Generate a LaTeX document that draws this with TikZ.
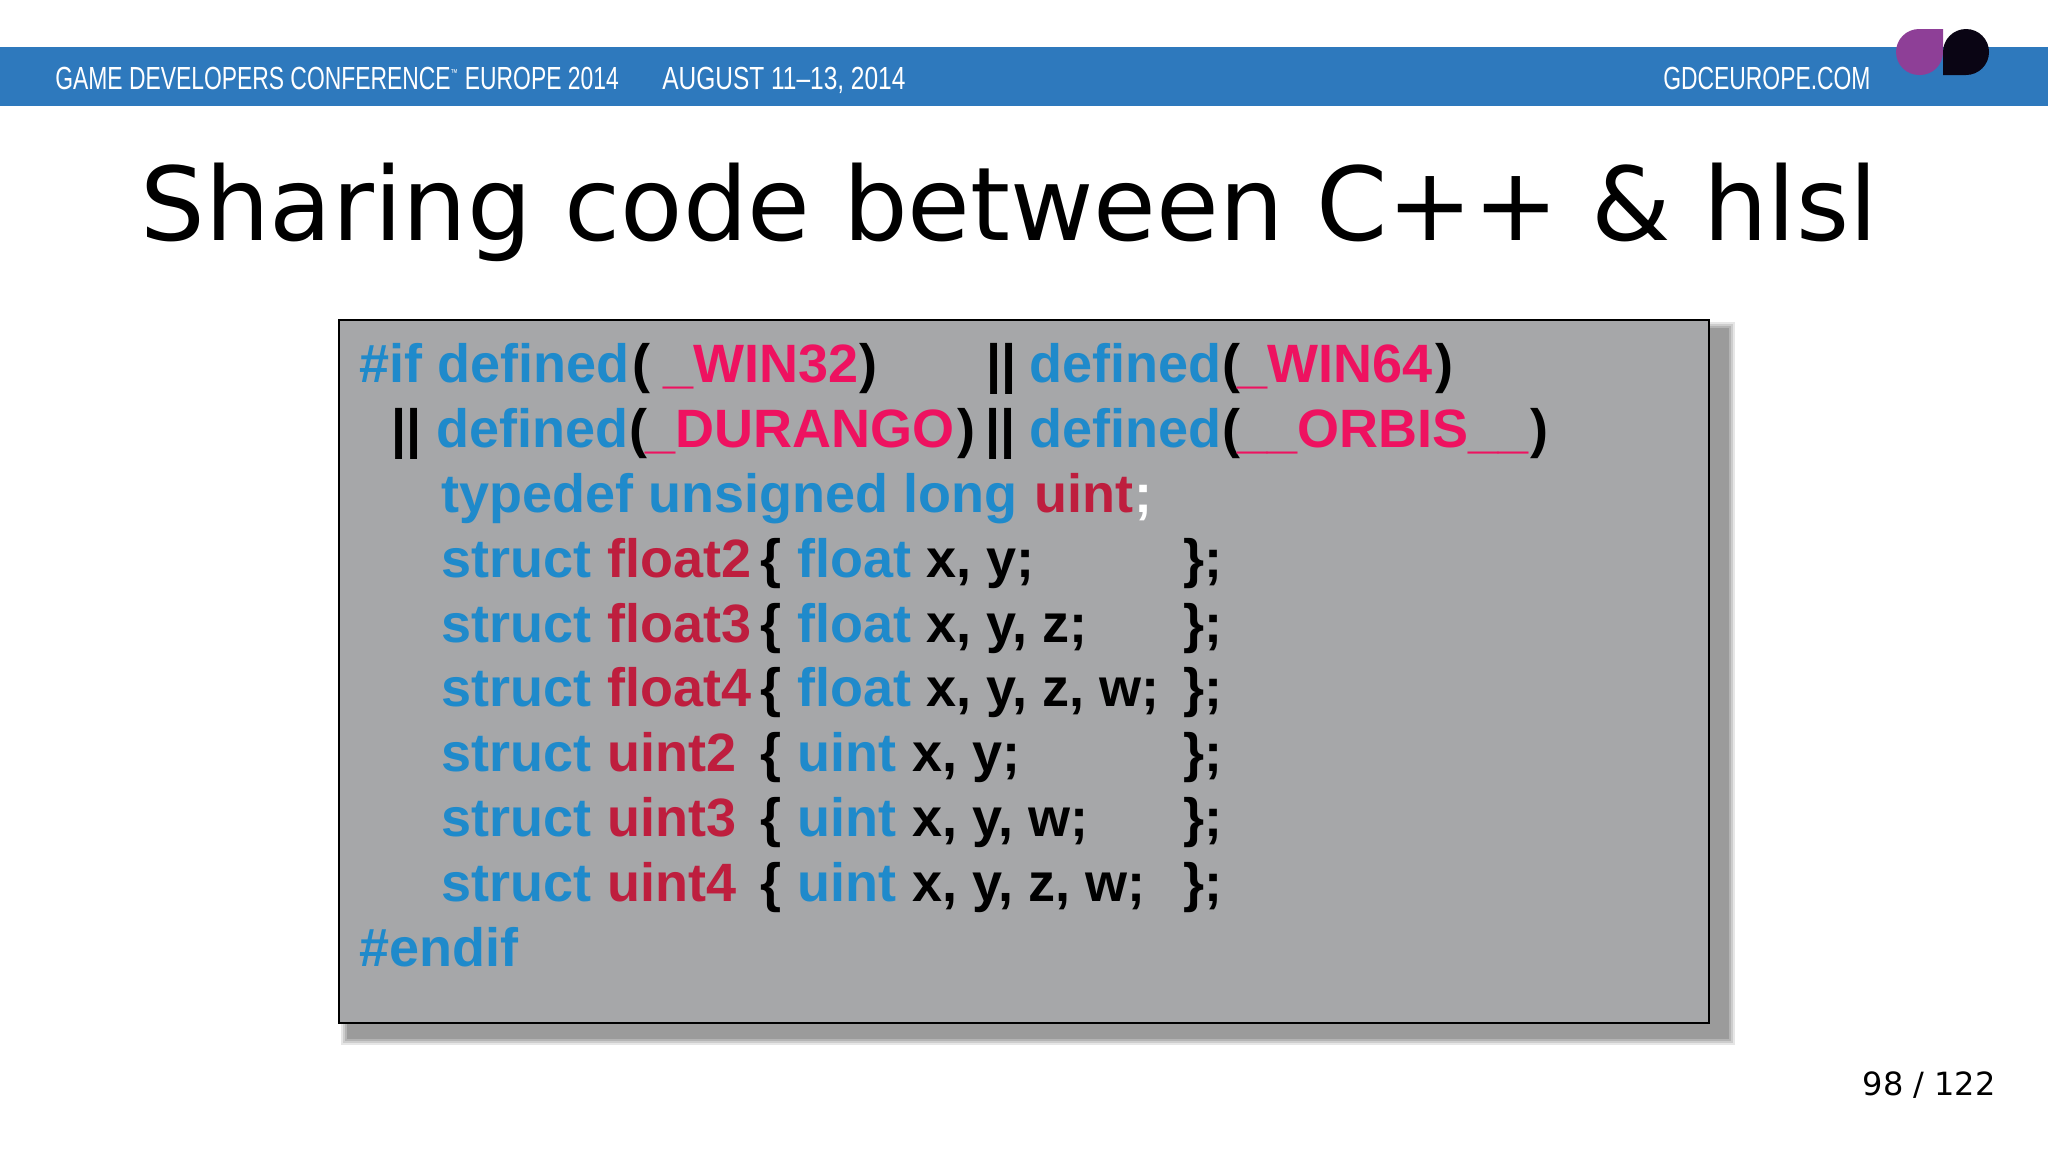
\documentclass[tikz,border=0pt]{standalone}
\usepackage{fontspec}
\setmainfont{Liberation Sans}
\newfontfamily\slidefont{DejaVu Sans}

\definecolor{barblue}{HTML}{2E79BD}
\definecolor{boxgrey}{HTML}{A6A7A9}
\definecolor{shadowgrey}{HTML}{9B9B9B}
\definecolor{kwblue}{HTML}{1F8ACB}
\definecolor{macrored}{HTML}{EE1260}
\definecolor{typered}{HTML}{BE1E3E}
\definecolor{logopurple}{HTML}{8E3F97}
\definecolor{logoblack}{HTML}{0A0514}

\tikzset{
    code/.style={anchor=base west, inner sep=0pt, font=\fontsize{27}{30}\selectfont\bfseries},
    kw/.style={code, text=kwblue},
    macro/.style={code, text=macrored},
    tname/.style={code, text=typered},
    punct/.style={code, text=black},
    banner/.style={anchor=base west, inner sep=0pt, text=white, xscale=0.715, font=\fontsize{16}{18}\selectfont}
}

\begin{document}
\begin{tikzpicture}[x=0.5pt, y=-0.5pt]
    \useasboundingbox (0,0) rectangle (2048,1152);

    % header bar
    \fill[barblue] (0,47) rectangle (2048,106);
    \node[banner] (conf) at (55,89) {GAME DEVELOPERS CONFERENCE\textsuperscript{\tiny ™} EUROPE 2014};
    \node[banner, xscale=1.07] (dates) at (662,89) {AUGUST 11--13, 2014};
    \node[banner] (site) at (1663,89) {GDCEUROPE.COM};
    \fill[logopurple, rounded corners=11.5pt] (1943,29) -- (1943,75) -- (1896,75) -- (1896,29) -- (1943,29);
    \fill[logoblack, rounded corners=11.5pt] (1943,75) -- (1943,29) -- (1989,29) -- (1989,75) -- (1943,75);

    \node[anchor=base, inner sep=0pt, font=\slidefont\fontsize{51}{60}\selectfont] (title) at (1009,240) {Sharing code between C++ \& hlsl};
    \node[anchor=base east, inner sep=0pt, font=\slidefont\fontsize{16}{18}\selectfont] (page) at (1996,1095) {98 / 122};

    % code box
    \foreach \d/\sh in {0/25, 2/50, 4/75, 6/100}
        \fill[shadowgrey!\sh!white] (341+\d,322+\d) rectangle (1735-\d,1045-\d);
    \draw[fill=boxgrey, line width=1.2pt] (339,320) rectangle (1709,1023);

    \node[kw] (ifdef) at (359,382.5) {\#if defined};
    \node[punct] (p1) at (632,382.5) {(};
    \node[macro] (win32) at (663,382.5) {\_WIN32};
    \node[punct] (p2) at (859,382.5) {)};
    \node[punct] (or1) at (986,382.5) {||};
    \node[kw] (def2) at (1029,382.5) {defined};
    \node[punct] (p3) at (1222,382.5) {(};
    \node[macro] (win64) at (1237,382.5) {\_WIN64};
    \node[punct] (p4) at (1435,382.5) {)};

    \node[punct] (or2) at (391,447.3) {||};
    \node[kw] (def3) at (436,447.3) {defined};
    \node[punct] (p5) at (629,447.3) {(};
    \node[macro] (durango) at (645,447.3) {\_DURANGO};
    \node[punct] (p6) at (957,447.3) {)};
    \node[punct] (or3) at (985,447.3) {||};
    \node[kw] (def4) at (1029,447.3) {defined};
    \node[punct] (p7) at (1222,447.3) {(};
    \node[macro] (orbis) at (1237,447.3) {\_\_ORBIS\_\_};
    \node[punct] (p8) at (1530,447.3) {)};

    \node[kw] (tdef) at (441,512.1) {typedef unsigned long};
    \node[tname] (uint) at (1034,512.1) {uint};
    \node[code, text=white] (semi) at (1134,512.1) {;};

    \foreach \i/\tn/\base/\bx/\fields [count=\n from 0] in {
        a/float2/float/926/{x, y;},
        b/float3/float/926/{x, y, z;},
        c/float4/float/926/{x, y, z, w;},
        d/uint2/uint/912/{x, y;},
        e/uint3/uint/912/{x, y, w;},
        f/uint4/uint/912/{x, y, z, w;}} {
        \pgfmathsetmacro{\ly}{577.2+64.8*\n}
        \node[kw] (st\i) at (441,\ly) {struct};
        \node[tname] (tn\i) at (607,\ly) {\tn};
        \node[punct] (ob\i) at (760,\ly) {\{};
        \node[kw] (bt\i) at (797,\ly) {\base};
        \node[punct] (fd\i) at (\bx,\ly) {\fields};
        \node[punct] (cb\i) at (1183,\ly) {\};};
    }

    \node[kw] (endif) at (359,966) {\#endif};
\end{tikzpicture}
\end{document}
